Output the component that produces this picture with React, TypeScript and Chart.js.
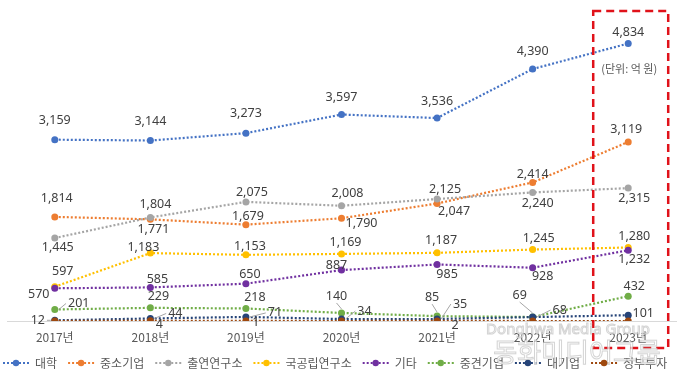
import React, { useEffect, useRef } from 'react';
import { Chart, registerables } from 'chart.js';
Chart.register(...registerables);

// ---- data ----
const years = ['2017년', '2018년', '2019년', '2020년', '2021년', '2022년', '2023년'];
const university = [3159, 3144, 3273, 3597, 3536, 4390, 4834];
const smallMidCompanies = [1814, 1771, 1679, 1790, 2047, 2414, 3119];
const govFundedInstitutes = [1445, 1804, 2075, 2008, 2125, 2240, 2315];
const nationalInstitutes = [597, 1183, 1153, 1169, 1187, 1245, 1280];
const others = [570, 585, 650, 887, 985, 928, 1232];
const midsizeCompanies = [201, 229, 218, 140, 85, 69, 432];
const largeCompanies = [12, 44, 71, 34, 35, 68, 101];
const govInvestment = [0, 4, 1, 0, 2, 0, 0];

const seriesNames = ['대학', '중소기업', '출연연구소', '국공립연구소', '기타', '중견기업', '대기업', '정부투자'];
const seriesColors = ['#4472C4', '#ED7D31', '#A5A5A5', '#FFC000', '#7030A0', '#70AD47', '#264478', '#9E480E'];

// label placement (offset from point: dx, dy, leader line flag); null = no label
type LP = [number, number, number?] | null;
const labelPlacement: LP[][] = [
  [[0, -19], [0, -19], [0, -20], [0, -17], [0, -17], [0, -18], [0, -11]],
  [[2, -18], [3, 10], [2, -8], [20, 5], [17, 8], [0, -8], [-2, -13]],
  [[3, 9], [5, -13], [6, -9], [6, -12], [8, -10], [5, 11], [6, 10]],
  [[8, -15], [-7, -6], [4, -8], [4, -11], [4, -12], [6, -11], [6, -11]],
  [[-16, 6], [7, -8], [4, -9], [-5, -5], [10, 10], [10, 9], [6, 9]],
  [[24, -6, 1], [8, -11], [9, -11], [-5, -17, 1], [-5, -19, 1], [-13, -22, 1], [6, -10]],
  [[-17, 0, 1], [25, -5, 1], [29, -4, 1], [23, -8, 1], [23, -15, 1], [27, -7, 1], [15, -2]],
  [null, [9, 4], [10, 1], null, [18, 5], null, null],
];

const seriesData = [university, smallMidCompanies, govFundedInstitutes, nationalInstitutes, others, midsizeCompanies, largeCompanies, govInvestment];

const labelFont = '12.5px "Noto Sans", "Noto Sans CJK KR", sans-serif';
const korFont = '"Noto Sans CJK KR", "Noto Sans", sans-serif';

const dataLabelPlugin = {
  id: 'dataLabelPlugin',
  afterDatasetsDraw(chart: any) {
    const ctx = chart.ctx;
    ctx.save();
    ctx.font = labelFont;
    ctx.textAlign = 'center';
    ctx.textBaseline = 'middle';
    chart.data.datasets.forEach((ds: any, i: number) => {
      const meta = chart.getDatasetMeta(i);
      const place = ds.labelPlacement as LP[];
      meta.data.forEach((pt: any, j: number) => {
        const o = place[j];
        if (!o) return;
        const lx = pt.x + o[0];
        const ly = pt.y + o[1];
        const txt = Number(ds.data[j]).toLocaleString('en-US');
        const w = ctx.measureText(txt).width;
        if (o[2]) {
          ctx.strokeStyle = '#A6A6A6';
          ctx.lineWidth = 1;
          ctx.setLineDash([]);
          ctx.beginPath();
          if (Math.abs(o[0]) >= Math.abs(o[1])) {
            const s = Math.sign(o[0]);
            ctx.moveTo(pt.x + s * 4, pt.y);
            ctx.lineTo(lx - s * (w / 2 + 2), ly);
          } else {
            const s = Math.sign(o[1]);
            ctx.moveTo(pt.x, pt.y + s * 4);
            ctx.lineTo(lx, ly - s * 7);
          }
          ctx.stroke();
        }
        ctx.fillStyle = '#404040';
        ctx.fillText(txt, lx, ly);
      });
    });
    ctx.restore();
  },
};

const decorPlugin = {
  id: 'decorPlugin',
  afterDraw(chart: any) {
    const ctx = chart.ctx;
    const xs = chart.scales.x;
    ctx.save();
    // legend
    const ly = 363;
    let x = 3;
    chart.data.datasets.forEach((ds: any) => {
      const c = ds.borderColor;
      ctx.strokeStyle = c;
      ctx.lineWidth = 2;
      ctx.setLineDash([2, 2]);
      ctx.beginPath();
      ctx.moveTo(x, ly);
      ctx.lineTo(x + 26, ly);
      ctx.stroke();
      ctx.setLineDash([]);
      ctx.fillStyle = c;
      ctx.beginPath();
      ctx.arc(x + 13, ly, 3.2, 0, Math.PI * 2);
      ctx.fill();
      x += 26 + 6;
      ctx.font = '12px ' + korFont;
      ctx.textAlign = 'left';
      ctx.textBaseline = 'middle';
      ctx.fillStyle = '#595959';
      ctx.fillText(ds.label, x, ly);
      x += ctx.measureText(ds.label).width + 11;
    });

    // red dashed box around the last year
    const cx = xs.getPixelForValue(years.length - 1);
    ctx.strokeStyle = '#E0121A';
    ctx.lineWidth = 2.5;
    ctx.setLineDash([8, 5]);
    ctx.strokeRect(cx - 35, 11, 75, 337);
    ctx.setLineDash([]);

    // unit text
    ctx.font = '11px ' + korFont;
    ctx.textAlign = 'center';
    ctx.textBaseline = 'middle';
    ctx.fillStyle = '#595959';
    ctx.fillText('(단위: 억 원)', cx + 1, 69);

    // watermark
    ctx.lineWidth = 1;
    ctx.strokeStyle = 'rgba(170,170,170,0.5)';
    ctx.fillStyle = 'rgba(255,255,255,0.75)';
    ctx.font = '15px "Noto Sans", sans-serif';
    ctx.fillText('Donghwa Media Group', 568, 330);
    ctx.strokeText('Donghwa Media Group', 568, 330);
    ctx.font = '26px ' + korFont;
    ctx.fillText('동화미디어그룹', 577, 352);
    ctx.strokeText('동화미디어그룹', 577, 352);
    ctx.restore();
  },
};

export default function App() {
  const ref = useRef<HTMLCanvasElement | null>(null);
  useEffect(() => {
    document.body.style.margin = '0';
    if (!ref.current) return;
    const datasets = seriesNames.map((name, i) => ({
      label: name,
      data: seriesData[i],
      borderColor: seriesColors[i],
      backgroundColor: seriesColors[i],
      borderWidth: 2.2,
      borderDash: [2, 2],
      pointRadius: 3.5,
      pointBackgroundColor: seriesColors[i],
      pointBorderWidth: 0,
      tension: 0,
      order: seriesNames.length - i,
      labelPlacement: labelPlacement[i],
    }));
    const chart = new Chart(ref.current, {
      type: 'line',
      data: { labels: years, datasets } as any,
      options: {
        animation: false,
        responsive: false,
        maintainAspectRatio: false,
        devicePixelRatio: 1,
        layout: { padding: { top: 34, left: 7, right: 3, bottom: 35 } },
        plugins: { legend: { display: false }, tooltip: { enabled: false } },
        scales: {
          x: {
            offset: true,
            grid: { display: false, drawTicks: false },
            border: { display: true, color: '#D9D9D9', width: 1 },
            ticks: {
              padding: 9,
              color: '#595959',
              font: { family: korFont, size: 12 },
              maxRotation: 0,
              autoSkip: false,
            },
            afterFit: (s: any) => {
              s.height = 32;
            },
          },
          y: { display: false, min: 0, max: 5000 },
        },
      } as any,
      plugins: [dataLabelPlugin, decorPlugin],
    });
    return () => chart.destroy();
  }, []);
  return <canvas ref={ref} width={680} height={388} style={{ display: 'block' }} />;
}
